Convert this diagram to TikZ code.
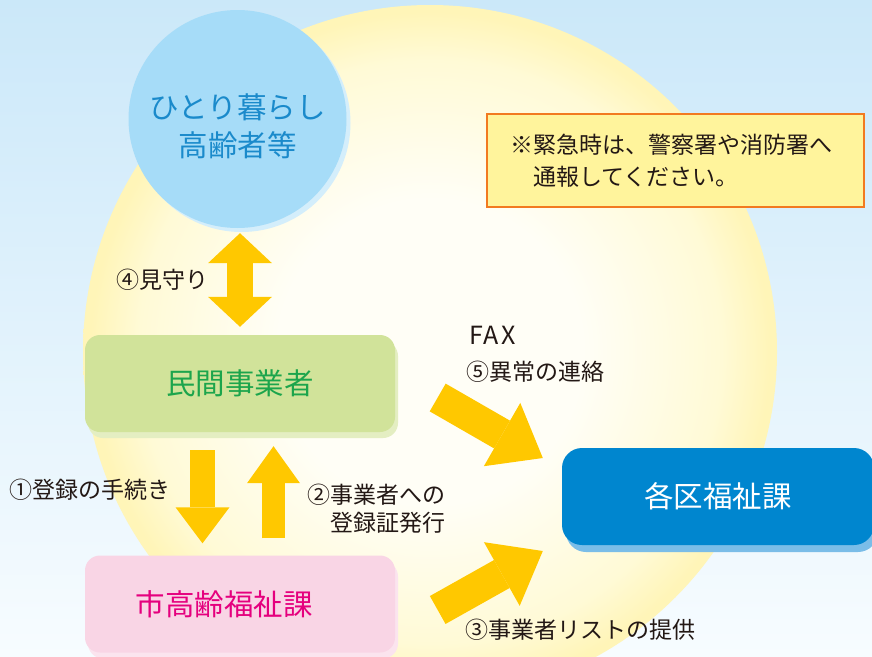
\documentclass[tikz,border=0pt]{standalone}
\usepackage{fontspec}
\setmainfont{Noto Sans CJK JP}
\usepackage{tikz}
\usetikzlibrary{arrows.meta,%
                shadows}
\definecolor{skytop}{HTML}{CBE8F9}
\definecolor{skybottom}{HTML}{F7FCFF}
\definecolor{sunwhite}{HTML}{FFFEF6}
\definecolor{suncream}{HTML}{FFFAD6}
\definecolor{sunedge}{HTML}{FFF5B8}
\definecolor{gold}{HTML}{FFC800}
\definecolor{bubblefill}{HTML}{A6DCF8}
\definecolor{bubbleshade}{HTML}{D4EEFB}
\definecolor{bubbleink}{HTML}{1A8ACB}
\definecolor{leaf}{HTML}{D1E39A}
\definecolor{leafshade}{HTML}{E4EEC2}
\definecolor{leafink}{HTML}{1CA54C}
\definecolor{blush}{HTML}{F9D5E5}
\definecolor{blushshade}{HTML}{FBE4EE}
\definecolor{rose}{HTML}{E5007E}
\definecolor{ocean}{HTML}{0086CF}
\definecolor{oceanshade}{HTML}{7ABDE8}
\definecolor{lemon}{HTML}{FFF49C}
\definecolor{tangerine}{HTML}{F27A20}
\definecolor{ink}{HTML}{231815}
\pgfdeclareradialshading{sunglow}{\pgfpoint{0bp}{0bp}}{color(0bp)=(sunwhite); color(11bp)=(sunwhite); color(21bp)=(suncream); color(24.5bp)=(sunedge); color(50bp)=(sunedge)}

\begin{document}
\begin{tikzpicture}[x=1pt, y=-1pt,
  bubble/.style={circle, minimum size=218pt, fill=bubblefill, text=bubbleink, align=center,
    font=\fontsize{29.5}{38}\selectfont,
    drop shadow={shadow xshift=4pt, shadow yshift=-4pt, fill=bubbleshade, opacity=1}},
  box/.style={rectangle, rounded corners=15pt, minimum width=310pt, minimum height=97pt,
    font=\fontsize{29.5}{36}\selectfont},
  memo/.style={rectangle, draw=tangerine, line width=2pt, fill=lemon, minimum width=377pt,
    minimum height=93pt, text width=331pt, inner xsep=23pt, align=left, text=ink,
    font=\fontsize{23}{31.5}\selectfont},
  tag/.style={inner sep=0pt, text=ink, font=\fontsize{23}{28.3}\selectfont},
  bigarrow/.style n args={3}{draw=gold, line width=#1, -{Triangle[length=#2, width=#3, line width=0pt]}},
  twoway/.style n args={3}{draw=gold, line width=#1,
    {Triangle[length=#2, width=#3, line width=0pt]}-{Triangle[length=#2, width=#3, line width=0pt]}}]
\useasboundingbox (0,0) rectangle (872,656);
\shade[top color=skytop, bottom color=skybottom] (0,0) rectangle (872,656);
\shade[shading=sunglow] (430,352) circle (347pt);

\node[bubble] (elder) at (237.5,119) {\rule{0pt}{40pt}ひとり暮らし\\高齢者等};
\node[box, fill=leaf, text=leafink,
  drop shadow={shadow xshift=3pt, shadow yshift=-6pt, fill=leafshade, opacity=1}] (private) at (240,383.5) {民間事業者};
\node[box, fill=blush, text=rose,
  drop shadow={shadow xshift=3pt, shadow yshift=-6pt, fill=blushshade, opacity=1}] (city) at (240,604) {\hspace*{-32pt}市高齢福祉課};
\node[box, fill=ocean, text=white, minimum width=312pt, rounded corners=20pt,
  drop shadow={shadow xshift=4pt, shadow yshift=-7pt, fill=oceanshade, opacity=1}] (ward) at (718,496.5) {各区福祉課};
\node[memo] (notice) at (675.5,160.5) {※緊急時は、警察署や消防署へ\\\hspace*{1em}通報してください。};

\node[tag] (watch) at (162.5,280) {④見守り};
\node[tag] (apply) at (90,490) {①登録の手続き};
\node[tag, anchor=east, align=right] (issue) at (446,509) {②事業者への\\登録証発行};
\node[tag, anchor=west, align=left, font=\fontsize{23}{36}\selectfont] (fax) at (466,354) {\hspace*{3pt}{\fontsize{25}{36}\selectfont\addfontfeature{LetterSpace=8}FAX}\\⑤異常の連絡};
\node[tag, anchor=west] (list) at (465,630) {③事業者リストの提供};

\draw[twoway={26pt}{30pt}{64pt}] ([xshift=2.5pt,yshift=-5pt]elder.south) -- ([yshift=8pt]private.north);
\draw[bigarrow={25pt}{36pt}{54pt}] ([xshift=-37.5pt,yshift=-18pt]private.south) -- ([xshift=-37.5pt,yshift=12pt]city.north);
\draw[bigarrow={23pt}{37pt}{53pt}] ([xshift=33.5pt,yshift=17pt]city.north) -- ([xshift=33.5pt,yshift=-14pt]private.south);
\draw[bigarrow={32pt}{47pt}{73pt}] ([xshift=42.5pt,yshift=-14pt]private.east) -- ([xshift=-19pt,yshift=38.5pt]ward.west);
\draw[bigarrow={32pt}{47pt}{73pt}] ([xshift=42.5pt,yshift=-6pt]city.east) -- ([xshift=-19pt,yshift=-54.5pt]ward.west);

\end{tikzpicture}
\end{document}
